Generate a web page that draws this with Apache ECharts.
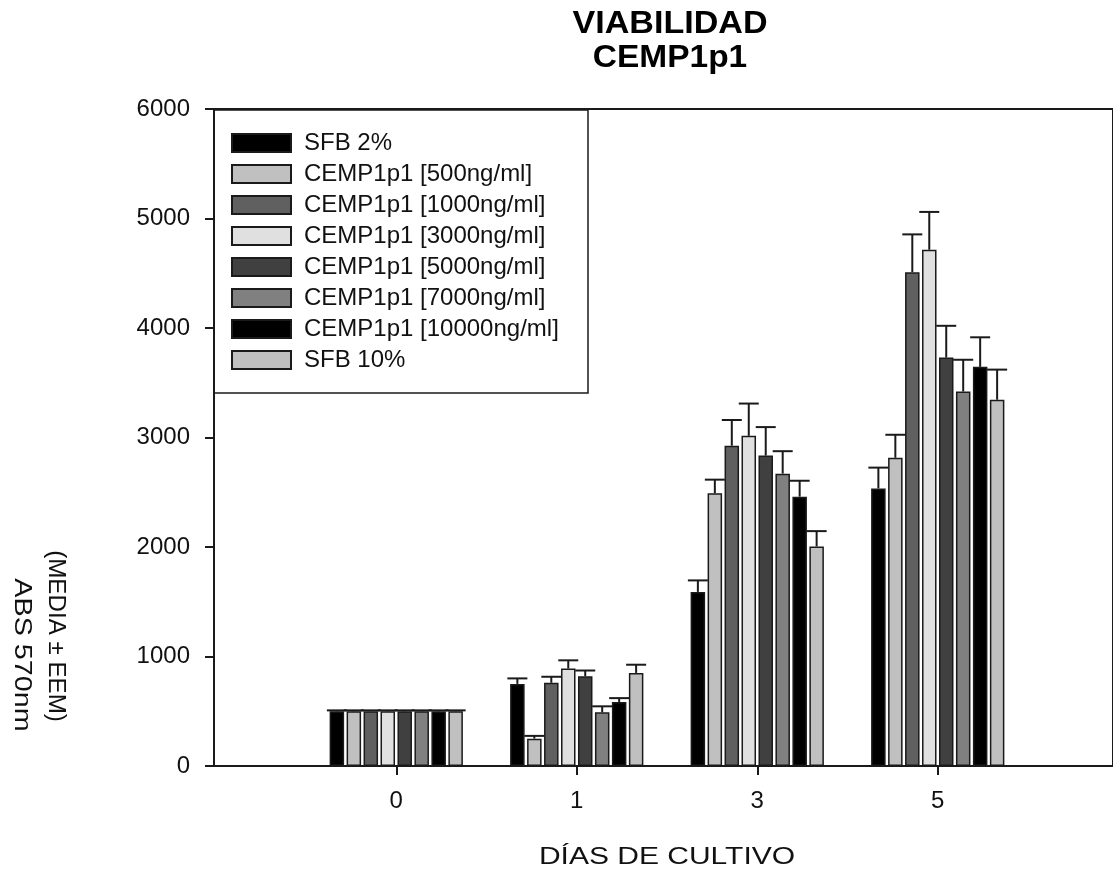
<!DOCTYPE html>
<html>
<head>
<meta charset="utf-8">
<title>VIABILIDAD CEMP1p1</title>
<script src="https://cdn.jsdelivr.net/npm/echarts@6/dist/echarts.min.js"></script>
<style>
  html, body { margin: 0; padding: 0; background: #fff; }
  #chart { width: 1113px; height: 873px; }
</style>
</head>
<body>
<div id="chart"></div>
<script>
// Culture days (x categories)
const days = ['0', '1', '3', '5'];

// Series names
const seriesNames = [
  'SFB 2%',
  'CEMP1p1 [500ng/ml]',
  'CEMP1p1 [1000ng/ml]',
  'CEMP1p1 [3000ng/ml]',
  'CEMP1p1 [5000ng/ml]',
  'CEMP1p1 [7000ng/ml]',
  'CEMP1p1 [10000ng/ml]',
  'SFB 10%'
];

// Mean absorbance per day, and the standard error of each mean
const sfb2      = [500, 750, 1590, 2535];
const sfb2Err   = [8, 50, 105, 190];
const c500      = [500, 250, 2490, 2815];
const c500Err   = [8, 25, 125, 210];
const c1000     = [500, 760, 2925, 4510];
const c1000Err  = [8, 55, 235, 345];
const c3000     = [500, 890, 3015, 4715];
const c3000Err  = [8, 75, 295, 345];
const c5000     = [500, 820, 2835, 3730];
const c5000Err  = [8, 52, 260, 290];
const c7000     = [500, 490, 2670, 3420];
const c7000Err  = [8, 55, 205, 290];
const c10000    = [500, 585, 2460, 3645];
const c10000Err = [8, 35, 145, 270];
const sfb10     = [500, 850, 2005, 3345];
const sfb10Err  = [8, 75, 140, 275];

// Y axis ticks
const yTicks = [0, 1000, 2000, 3000, 4000, 5000, 6000];

const means = [sfb2, c500, c1000, c3000, c5000, c7000, c10000, sfb10];
const errors = [sfb2Err, c500Err, c1000Err, c3000Err, c5000Err, c7000Err, c10000Err, sfb10Err];
const fills = ['#000000', '#c0c0c0', '#606060', '#e0e0e0', '#404040', '#808080', '#000000', '#c0c0c0'];

const FONT = '"Liberation Sans", Arial, sans-serif';
const INK = '#111';
const BAR_W = 14.5;
const GAP_RATIO = 0.17;
const SLOT = BAR_W * (1 + GAP_RATIO);
const N = means.length;

const barSeries = means.map((vals, i) => ({
  name: seriesNames[i],
  type: 'bar',
  xAxisIndex: 1,
  yAxisIndex: 1,
  barWidth: BAR_W,
  barGap: (GAP_RATIO * 100) + '%',
  data: vals,
  itemStyle: { color: fills[i], borderColor: '#1a1a1a', borderWidth: 1.5 },
  emphasis: { disabled: true },
  z: 2
}));

// Error bar rows: [day index, mean, error, series index]
const errRows = [];
means.forEach((vals, s) => {
  vals.forEach((v, d) => errRows.push([d, v, errors[s][d], s]));
});

const errorSeries = {
  type: 'custom',
  xAxisIndex: 1,
  yAxisIndex: 1,
  silent: true,
  z: 3,
  encode: { x: 0, y: 1 },
  data: errRows,
  renderItem: function (params, api) {
    const d = api.value(0), v = api.value(1), e = api.value(2), s = api.value(3);
    const base = api.coord([d, v]);
    const top = api.coord([d, v + e]);
    const x = base[0] + (s - (N - 1) / 2) * SLOT;
    const style = { stroke: '#1a1a1a', lineWidth: 2, fill: null };
    return {
      type: 'group',
      children: [
        { type: 'line', shape: { x1: x, y1: base[1], x2: x, y2: top[1] }, style: style },
        { type: 'line', shape: { x1: x - 10, y1: top[1], x2: x + 10, y2: top[1] }, style: style }
      ]
    };
  }
};

const chart = echarts.init(document.getElementById('chart'), null, { renderer: 'canvas' });

chart.setOption({
  backgroundColor: '#ffffff',
  animation: false,
  textStyle: { fontFamily: FONT },
  grid: [
    // frame and value axis
    { left: 214, top: 109, right: -20, bottom: 107, show: true, borderColor: '#1a1a1a', borderWidth: 2, backgroundColor: 'transparent' },
    // bar area
    { left: 306, top: 109, right: 85, bottom: 107 }
  ],
  xAxis: [
    { gridIndex: 0, type: 'value', min: 0, max: 1, show: false },
    {
      gridIndex: 1,
      type: 'category',
      data: days,
      boundaryGap: true,
      axisLine: { show: false },
      axisTick: { show: true, alignWithLabel: true, length: 9, lineStyle: { color: '#1a1a1a', width: 2 } },
      axisLabel: { fontSize: 24, color: INK, margin: 23, fontFamily: FONT },
      splitLine: { show: false }
    }
  ],
  yAxis: [
    {
      gridIndex: 0,
      type: 'value',
      min: yTicks[0],
      max: yTicks[yTicks.length - 1],
      interval: yTicks[1] - yTicks[0],
      axisLine: { show: false },
      axisTick: { show: true, length: 9, lineStyle: { color: '#1a1a1a', width: 2 } },
      axisLabel: { fontSize: 24, color: INK, margin: 24, fontFamily: FONT, formatter: v => String(v) },
      splitLine: { show: false }
    },
    {
      gridIndex: 1,
      type: 'value',
      min: yTicks[0],
      max: yTicks[yTicks.length - 1],
      show: false,
      splitLine: { show: false }
    }
  ],
  legend: {
    orient: 'vertical',
    left: 214,
    top: 110,
    padding: [21, 10, 20, 17],
    itemGap: 7,
    itemWidth: 59,
    itemHeight: 18,
    icon: 'rect',
    selectedMode: false,
    data: seriesNames,
    textStyle: { fontSize: 24, color: INK, fontFamily: FONT, padding: [0, 0, 0, 8] }
  },
  graphic: [
    {
      type: 'rect',
      z: 10,
      silent: true,
      shape: { x: 214, y: 110, width: 374, height: 283 },
      style: { fill: 'none', stroke: '#1a1a1a', lineWidth: 1.5 }
    },
    {
      type: 'text', x: 670, y: 24, scaleX: 1.1, silent: true,
      style: { text: 'VIABILIDAD', fontSize: 31, fontWeight: 'bold', fontFamily: FONT, fill: '#000', align: 'center', verticalAlign: 'middle' }
    },
    {
      type: 'text', x: 670, y: 58, scaleX: 1.08, silent: true,
      style: { text: 'CEMP1p1', fontSize: 31, fontWeight: 'bold', fontFamily: FONT, fill: '#000', align: 'center', verticalAlign: 'middle' }
    },
    {
      type: 'text', x: 667, y: 857, scaleX: 1.25, silent: true,
      style: { text: 'DÍAS DE CULTIVO', fontSize: 24, fontFamily: FONT, fill: INK, align: 'center', verticalAlign: 'middle' }
    },
    {
      type: 'text', x: 55, y: 636, rotation: -Math.PI / 2, scaleX: 1.05, silent: true,
      style: { text: '(MEDIA ± EEM)', fontSize: 23, fontFamily: FONT, fill: INK, align: 'center', verticalAlign: 'middle' }
    },
    {
      type: 'text', x: 21, y: 655, rotation: -Math.PI / 2, scaleX: 1.25, silent: true,
      style: { text: 'ABS 570nm', fontSize: 23, fontFamily: FONT, fill: INK, align: 'center', verticalAlign: 'middle' }
    }
  ],
  series: barSeries.concat([errorSeries])
});
</script>
</body>
</html>
